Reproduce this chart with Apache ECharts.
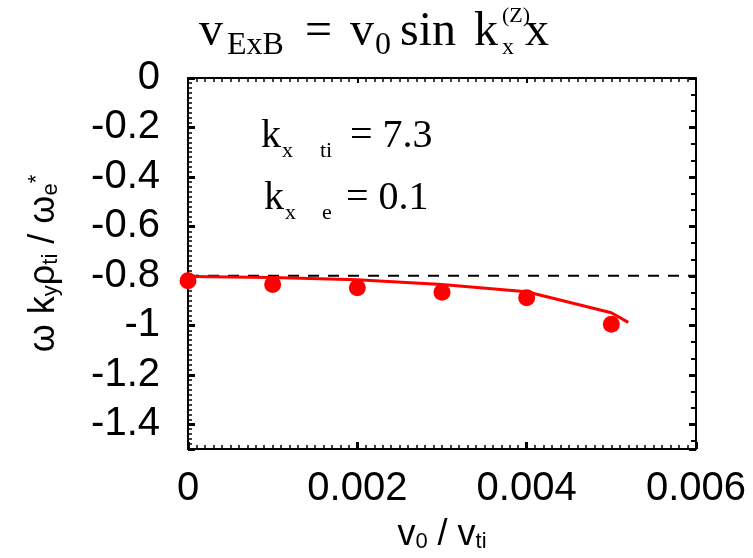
<!DOCTYPE html>
<html><head><meta charset="utf-8">
<script src="https://cdn.jsdelivr.net/npm/echarts@6/dist/echarts.min.js"></script>
<style>html,body{margin:0;padding:0;background:#fff}#c{width:753px;height:558px}</style>
</head><body><div id="c"></div>
<script>
// ---- data ----
const pointX = [0, 0.001, 0.002, 0.003, 0.004, 0.005];
const pointY = [-0.82, -0.835, -0.848, -0.866, -0.888, -0.996];
const curveX = [0, 0.001, 0.002, 0.003, 0.004, 0.005, 0.0052];
const curveY = [-0.803, -0.807, -0.816, -0.835, -0.864, -0.949, -0.988];
const refX = [0, 0.006];
const refY = [-0.8, -0.8];
const xTickLabels = ['0', '0.002', '0.004', '0.006'];
const yTickLabels = ['0', '-0.2', '-0.4', '-0.6', '-0.8', '-1', '-1.2', '-1.4'];

const zip = (a, b) => a.map((v, i) => [v, b[i]]);
const SANS = "'Liberation Sans', Arial, sans-serif";
const SERIF = "'Liberation Serif', 'Times New Roman', serif";

const commonAxis = {
  axisLine: { show: true, onZero: false, lineStyle: { color: '#000', width: 2 } },
  splitLine: { show: false },
};

const chart = echarts.init(document.getElementById('c'), null, { renderer: 'canvas' });
chart.setOption({
  animation: false,
  backgroundColor: '#fff',
  grid: { left: 188, right: 57, top: 78, bottom: 108 },
  xAxis: [
    Object.assign({}, commonAxis, {
      type: 'value', min: 0, max: 0.006, interval: 0.002, position: 'bottom',
      axisTick: { show: true, inside: true, length: 7, lineStyle: { color: '#000', width: 3 } },
      minorTick: { show: true, splitNumber: 20, length: 4, lineStyle: { color: '#000', width: 1.5 } },
      axisLabel: {
        color: '#000', fontFamily: SANS, fontSize: 40, margin: 20,
        formatter: v => xTickLabels[Math.round(v / 0.002)]
      },
      name: '{n|v}{s|0}{n| / v}{s|ti}',
      nameLocation: 'middle', nameGap: 68,
      nameTextStyle: {
        rich: {
          n: { fontFamily: SANS, fontSize: 36, color: '#000' },
          s: { fontFamily: SANS, fontSize: 22, color: '#000', padding: [14, 0, 0, 0] }
        }
      }
    }),
    Object.assign({}, commonAxis, {
      type: 'value', min: 0, max: 0.006, interval: 0.002, position: 'top',
      axisTick: { show: true, inside: true, length: 5, lineStyle: { color: '#000', width: 2 } },
      minorTick: { show: true, splitNumber: 20, length: 4, lineStyle: { color: '#000', width: 1.5 } },
      axisLabel: { show: false }
    })
  ],
  yAxis: [
    Object.assign({}, commonAxis, {
      type: 'value', min: -1.5, max: 0, splitNumber: 8, position: 'left',
      axisTick: { show: true, inside: true, length: 7, lineStyle: { color: '#000', width: 3 } },
      minorTick: { show: true, splitNumber: 10, length: 4, lineStyle: { color: '#000', width: 1.5 } },
      axisLabel: {
        color: '#000', fontFamily: SANS, fontSize: 40, margin: 28, showMinLabel: false,
        formatter: v => { const i = Math.round(-v / 0.2); return Math.abs(-v - i * 0.2) < 1e-6 ? yTickLabels[i] : ''; }
      },
      name: '{n|ω k}{s|y}{n|ρ}{s|ti}{n| / ω}{s|e}{p|*}',
      nameLocation: 'middle', nameGap: 126, nameRotate: 90,
      nameTextStyle: {
        rich: {
          n: { fontFamily: SANS, fontSize: 36, color: '#000' },
          s: { fontFamily: SANS, fontSize: 22, color: '#000', padding: [14, 0, 0, 0] },
          p: { fontFamily: SANS, fontSize: 22, color: '#000', padding: [0, 0, 14, 0] }
        }
      }
    }),
    Object.assign({}, commonAxis, {
      type: 'value', min: -1.5, max: 0, splitNumber: 8, position: 'right',
      axisTick: { show: true, inside: true, length: 7, lineStyle: { color: '#000', width: 3 } },
      minorTick: { show: true, splitNumber: 3, length: 5, lineStyle: { color: '#000', width: 2 } },
      axisLabel: { show: false }
    })
  ],
  graphic: [
    // title: v_ExB = v_0 sin k_x^(Z) x
    { type: 'text', style: { text: 'v', x: 199, y: 32, font: '48px ' + SERIF, fill: '#000', verticalAlign: 'middle' } },
    { type: 'text', style: { text: 'ExB', x: 227, y: 46, font: '32px ' + SERIF, fill: '#000', verticalAlign: 'middle' } },
    { type: 'text', style: { text: '=', x: 305, y: 32, font: '48px ' + SERIF, fill: '#000', verticalAlign: 'middle' } },
    { type: 'text', style: { text: 'v', x: 350, y: 32, font: '48px ' + SERIF, fill: '#000', verticalAlign: 'middle' } },
    { type: 'text', style: { text: '0', x: 375, y: 46, font: '32px ' + SERIF, fill: '#000', verticalAlign: 'middle' } },
    { type: 'text', style: { text: 'sin', x: 400, y: 32, font: '48px ' + SERIF, fill: '#000', verticalAlign: 'middle' } },
    { type: 'text', style: { text: 'k', x: 474, y: 32, font: '48px ' + SERIF, fill: '#000', verticalAlign: 'middle' } },
    { type: 'text', style: { text: '(Z)', x: 502, y: 16, font: '22px ' + SERIF, fill: '#000', verticalAlign: 'middle' } },
    { type: 'text', style: { text: 'x', x: 502, y: 48, font: '24px ' + SERIF, fill: '#000', verticalAlign: 'middle' } },
    { type: 'text', style: { text: 'x', x: 525, y: 32, font: '48px ' + SERIF, fill: '#000', verticalAlign: 'middle' } },
    // annotation line 1: k_x  ti = 7.3
    { type: 'text', style: { text: 'k', x: 261, y: 136, font: '40px ' + SERIF, fill: '#000', verticalAlign: 'middle' } },
    { type: 'text', style: { text: 'x', x: 282, y: 151, font: '22px ' + SERIF, fill: '#000', verticalAlign: 'middle' } },
    { type: 'text', style: { text: 'ti', x: 320, y: 151, font: '22px ' + SERIF, fill: '#000', verticalAlign: 'middle' } },
    { type: 'text', style: { text: '= 7.3', x: 350, y: 136, font: '40px ' + SERIF, fill: '#000', verticalAlign: 'middle' } },
    // annotation line 2: k_x  e = 0.1
    { type: 'text', style: { text: 'k', x: 264, y: 198, font: '40px ' + SERIF, fill: '#000', verticalAlign: 'middle' } },
    { type: 'text', style: { text: 'x', x: 285, y: 213, font: '22px ' + SERIF, fill: '#000', verticalAlign: 'middle' } },
    { type: 'text', style: { text: 'e', x: 322, y: 213, font: '22px ' + SERIF, fill: '#000', verticalAlign: 'middle' } },
    { type: 'text', style: { text: '= 0.1', x: 346, y: 198, font: '40px ' + SERIF, fill: '#000', verticalAlign: 'middle' } }
  ],
  series: [
    {
      name: 'reference', type: 'line', xAxisIndex: 0, yAxisIndex: 0,
      data: zip(refX, refY), symbol: 'none', silent: true,
      lineStyle: { color: '#000', width: 2, type: [11, 9] }, z: 1
    },
    {
      name: 'fit', type: 'line', xAxisIndex: 0, yAxisIndex: 0,
      data: zip(curveX, curveY), symbol: 'none', smooth: false,
      lineStyle: { color: '#ff0000', width: 3 }, z: 2
    },
    {
      name: 'simulation', type: 'scatter', xAxisIndex: 0, yAxisIndex: 0,
      data: zip(pointX, pointY), symbol: 'circle', symbolSize: 17,
      itemStyle: { color: '#ff0000', opacity: 1 }, z: 3
    }
  ]
});
</script>
</body></html>
